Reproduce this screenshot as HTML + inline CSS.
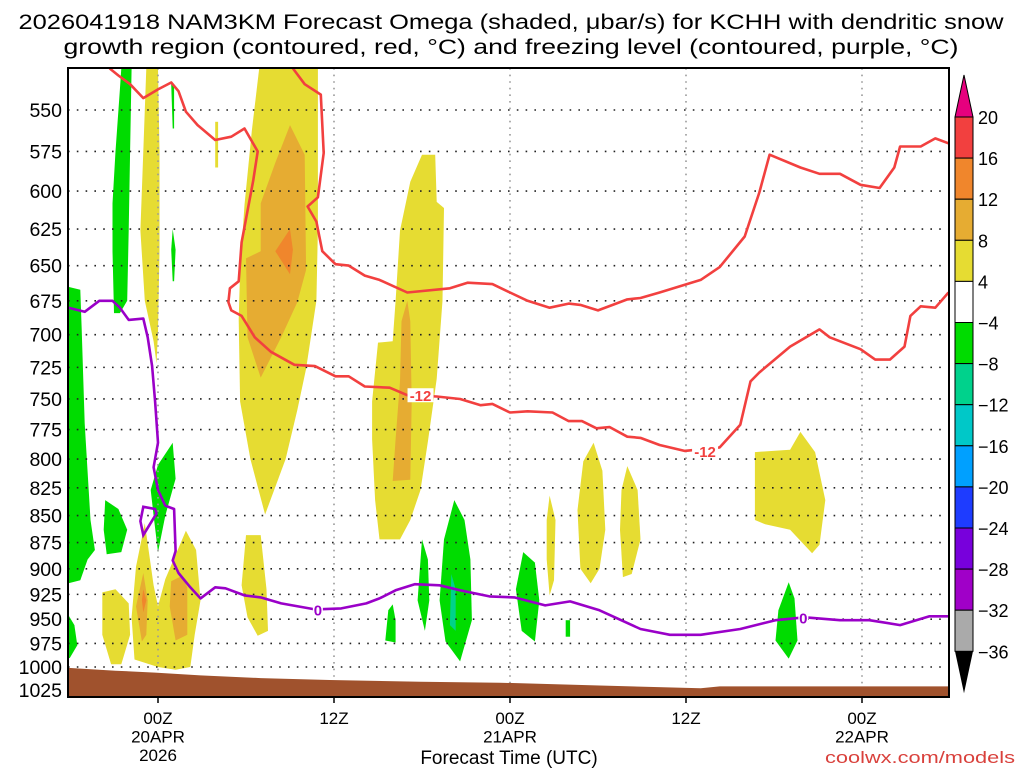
<!DOCTYPE html>
<html><head><meta charset="utf-8"><style>
html,body{margin:0;padding:0;background:#fff;}
svg{display:block;font-family:"Liberation Sans",sans-serif;}
</style></head><body>
<svg id="chart" width="1024" height="768" viewBox="0 0 1024 768" xmlns="http://www.w3.org/2000/svg">
<text x="511" y="29" font-size="21" text-anchor="middle" textLength="985" lengthAdjust="spacingAndGlyphs">2026041918 NAM3KM Forecast Omega (shaded, μbar/s) for KCHH with dendritic snow</text>
<text x="511" y="54" font-size="21" text-anchor="middle" textLength="895" lengthAdjust="spacingAndGlyphs">growth region (contoured, red, °C) and freezing level (contoured, purple, °C)</text>
<g id="plot"></g>
<g id="axes"></g>
<g id="cbar"></g>
<text x="509" y="764" font-size="19" text-anchor="middle">Forecast Time (UTC)</text>
<text x="1015" y="763" font-size="17" text-anchor="end" fill="#d9413c" textLength="190" lengthAdjust="spacingAndGlyphs">coolwx.com/models</text>
</svg>
<script>
// ---- data ----
const pressureTicks=[550,575,600,625,650,675,700,725,750,775,800,825,850,875,900,925,950,975,1000,1025];
const timeTickHours=[0,12,24,36,48];
const timeTickLabels=[["00Z","20APR","2026"],["12Z"],["00Z","21APR"],["12Z"],["00Z","22APR"]];
const colorbarLevels=[20,16,12,8,4,-4,-8,-12,-16,-20,-24,-28,-32,-36];
const colorbarColors=["#f2403f","#f0862c","#e6ac32","#e6dc32","#ffffff","#00dc00","#00d28c","#00c8c8","#00a0ff","#1e3cff","#7800dc","#a000c8","#aaaaaa"];
const terrain=[[-6.1,1001],[-2.9,1004],[-0.2,1006],[2.9,1009],[7,1012],[11.7,1014],[17.9,1016],[23.3,1017],[30.1,1020],[37,1023],[38.3,1021],[53.9,1021]];
const redLineA=[[-3.3,526],[-2.7,530],[-1.9,535],[-1,543],[0,538],[0.9,534],[1.4,539],[1.9,551],[2.7,559],[3.9,568],[5,566],[5.9,561],[6.8,575],[6.5,593],[5.7,634],[5.5,661],[4.9,666],[4.8,676],[5,682],[5.7,686],[6.6,702],[7.7,713],[9.3,723],[10.7,724],[12.1,732],[13,732],[14.1,740],[15.8,741],[17,747],[19,748],[20.6,750],[22,755],[22.8,754],[24,761],[25.2,760],[26.9,761],[28,768],[28.9,768],[29.9,774],[30.8,773],[32,781],[32.9,782],[34.2,788],[35.9,793],[38.3,790],[39.7,771],[40.4,736],[41,729],[43.1,709],[45.1,696],[45.8,702],[47.9,711],[48.9,719],[49.9,719],[50.9,709],[51.3,686],[52,679],[53,680],[53.9,669]];
const redLineB=[[9.2,526],[10,535],[11.1,541],[11.3,576],[10.9,604],[10.2,610],[10.8,620],[11.2,640],[12.1,649],[13,650],[14.1,657],[15.1,660],[17,669],[19.9,666],[21.1,662],[22.8,663],[24,669],[25.2,675],[26.7,680],[28,677],[28.8,678],[30,682],[31,678],[32,674],[32.9,673],[34.2,669],[37,660],[38.3,651],[40,630],[41,601],[41.7,577],[43.8,585],[45.1,589],[46.5,589],[47.9,596],[49.2,598],[50.2,585],[50.6,572],[52,572],[53,567],[53.9,570]];
const redLabels=[[17.9,747,"-12"],[37.3,793,"-12"]];
const freezingLine=[[-6.1,680],[-5,683],[-4,675],[-3.1,675],[-2.6,680],[-2,689],[-1,688],[-0.7,702],[-0.4,724],[-0.2,752],[0,786],[-0.3,807],[0,827],[0.5,841],[1.1,844],[1.2,883],[1,892],[1.4,904],[2.2,918],[2.9,929],[3.9,918],[4.6,919],[5.9,926],[7,928],[8.4,934],[10.7,940],[12.5,939],[14.2,934],[15.1,929],[16.2,921],[17.5,915],[19.2,916],[20.6,921],[22.6,927],[24.3,928],[26.4,936],[28.1,932],[30.1,941],[32.9,960],[34.9,966],[37,966],[39.7,960],[42.1,951],[44.1,948],[46.5,951],[48.5,951],[50.6,956],[52.6,947],[53.9,947]];
const freezingLoop=[[-1,842],[-0.2,844],[-0.1,848],[-1,868],[-1.2,855]];
const freezingLabels=[[10.9,940,"0"],[44,948,"0"]];
const omegaPos4=[
[[-0.8,526],[0,526],[0.1,575],[0.1,640],[0,698],[-0.1,722],[-0.3,705],[-0.9,675],[-1.2,626],[-1,575]],
[[3.9,557],[4.1,557],[4.1,585],[3.9,585]],
[[6.9,526],[10.9,526],[10.9,625],[10.8,675],[10.1,726],[9.5,759],[8.7,800],[7.3,849],[6.3,800],[5.6,752],[5.5,689],[5.6,653],[5.9,609],[6.4,562]],
[[18,577],[18.9,577],[19,607],[19.5,611],[19.4,675],[19,734],[18.4,785],[17.9,827],[17.2,854],[16.5,872],[15.1,872],[14.8,836],[14.6,783],[14.6,752],[15,706],[16,705],[16.2,675],[16.5,626],[17.2,594]],
[[26.7,832],[27.1,854],[27,911],[26.7,926],[26.5,891],[26.5,854]],
[[29.7,786],[30.3,810],[30.5,863],[30.1,900],[29.5,914],[28.8,900],[28.6,845],[29,802]],
[[32,806],[32.7,827],[32.9,872],[32.3,905],[31.7,908],[31.5,863],[31.6,827]],
[[43.8,777],[44.8,794],[45.5,836],[45.1,877],[44.6,885],[43.1,863],[41.4,858],[40.7,854],[40.7,794],[43.1,792]],
[[-3.8,923],[-2.9,920],[-2,934],[-1.9,966],[-2.5,997],[-3.2,997],[-3.8,966]],
[[-0.9,857],[-0.3,916],[0,937],[0.5,910],[1.9,864],[2.6,882],[2.9,931],[2.5,966],[2.2,1000],[1.2,1003],[0,1000],[-1.6,992],[-1.8,948],[-1.5,898]],
[[6,868],[7,868],[7.4,920],[7.5,962],[6.8,967],[6.1,948],[5.7,916]]
];
const omegaPos8=[
[[9,559],[10,577],[10.1,653],[9.5,676],[8.4,702],[7,733],[6.1,702],[6,645],[7,640],[7,608],[8,582]],
[[17,675],[17.2,690],[17.3,752],[17.2,818],[16,819],[16.2,783],[16.5,736],[16.6,690]],
[[-1,904],[-0.7,931],[-0.8,966],[-1.1,973],[-1.5,937]],
[[1.6,907],[2,918],[2,966],[1.2,972],[0.8,937],[0.9,912]]
];
const omegaPos12=[
[[9,625],[9.2,639],[9,656],[8,640]],
[[-1,920],[-0.8,931],[-1,943],[-1.1,931]]
];
const omegaNeg4=[
[[-6.1,665],[-5.3,667],[-5.2,696],[-5,770],[-4.6,854],[-4.3,882],[-4.8,891],[-5.3,911],[-6.1,914]],
[[-6.1,946],[-5.7,956],[-5.5,977],[-6,990],[-6.1,991]],
[[-2.5,526],[-1.8,526],[-1.9,575],[-2,626],[-2.1,675],[-2.6,684],[-3,684],[-3.1,640],[-3.1,608],[-2.9,575],[-2.6,538]],
[[0.9,535],[1.1,535],[1.1,561],[1,561]],
[[1,625],[1.2,639],[1.1,661],[1,661],[0.9,639]],
[[0,805],[1,786],[1.2,817],[0.5,850],[0,884],[-0.3,850],[-0.5,827]],
[[-3.6,836],[-2.7,844],[-2.1,863],[-2.5,884],[-3.5,886],[-3.7,863]],
[[20.2,836],[20.9,854],[21.3,891],[21.4,951],[20.6,994],[19.6,973],[19.2,931],[19.5,872]],
[[15.7,941],[16,935],[16.2,951],[16.2,974],[15.5,972]],
[[18,872],[18.4,891],[18.5,931],[18.2,962],[17.7,931]],
[[24.9,884],[25.7,894],[26,931],[25.7,973],[24.8,962],[24.4,920]],
[[27.8,951],[28.1,951],[28.1,968],[27.8,968]],
[[43,913],[43.4,929],[43.6,972],[43,991],[42.1,972],[42.3,941]]
];
const omegaNeg8=[
[[20,905],[20.3,920],[20.3,962],[19.9,956]]
];
// ---- scales ----
const X0=68,X1=949,Y0=68,Y1=697;
const xs=h=>158+h*(176/12);
const ys=p=>110+931.7*Math.log(p/550);
const NS="http://www.w3.org/2000/svg";
function mk(tag,attrs,parent){const e=document.createElementNS(NS,tag);for(const k in attrs)e.setAttribute(k,attrs[k]);parent.appendChild(e);return e;}
const plot=document.getElementById('plot'),axes=document.getElementById('axes'),cbar=document.getElementById('cbar');
const pts=a=>a.map(d=>xs(d[0]).toFixed(1)+','+ys(d[1]).toFixed(1)).join(' ');
const defs=mk('defs',{},plot);const cp=mk('clipPath',{id:'clip'},defs);mk('rect',{x:X0,y:Y0,width:X1-X0,height:Y1-Y0},cp);
const g=mk('g',{'clip-path':'url(#clip)'},plot);
function fillSet(arr,color,name){arr.forEach((a,i)=>{const e=mk('polygon',{points:pts(a),fill:color},g);

});}
fillSet(omegaPos4,'#e6dc32','omega-4-8-region');
fillSet(omegaPos8,'#e6ac32','omega-8-12-region');
fillSet(omegaPos12,'#f0862c','omega-12-16-region');
fillSet(omegaNeg4,'#00dc00','omega-neg4-neg8-region');
fillSet(omegaNeg8,'#00d28c','omega-neg8-neg12-region');
pressureTicks.forEach(p=>{const l=mk('line',{x1:X0,x2:X1,y1:ys(p),y2:ys(p),stroke:'#222','stroke-width':1.6,'stroke-dasharray':'1.6 7.2'},g);

});
timeTickHours.forEach(h=>{const l=mk('line',{x1:xs(h),x2:xs(h),y1:Y0,y2:Y1,stroke:'#999','stroke-width':1.6,'stroke-dasharray':'1.6 5'},g);

});
const tp=terrain.slice();tp.push([53.9,1100],[-6.1,1100]);
const ter=mk('polygon',{points:pts(tp),fill:'#a0522d'},g);


function line(a,color,name){const e=mk('polyline',{points:pts(a),fill:'none',stroke:color,'stroke-width':2.6,'stroke-linejoin':'round'},g);

}
line(redLineA,'#f2403f','dendritic-contour-lower');
line(redLineB,'#f2403f','dendritic-contour-upper');
line(freezingLine,'#9a00c8','freezing-level-line');
const lp=mk('polygon',{points:pts(freezingLoop),fill:'none',stroke:'#9a00c8','stroke-width':2.6},g);


function labels(arr,color,name,w){arr.forEach((d,i)=>{const x=xs(d[0]),y=ys(d[1]);
mk('rect',{x:x-w/2,y:y-7,width:w,height:14,fill:'#fff'},g);
const t=mk('text',{x:x,y:y+6,'font-size':15,'font-weight':'bold','text-anchor':'middle',fill:color},g);t.textContent=d[2];

});}
labels(redLabels,'#f2403f','dendritic-contour-label',26);
labels(freezingLabels,'#9a00c8','freezing-level-label',10);
mk('rect',{x:X0,y:Y0,width:X1-X0,height:Y1-Y0,fill:'none',stroke:'#000','stroke-width':2},axes);
pressureTicks.forEach(p=>{const t=mk('text',{x:62,y:ys(p)+7,'font-size':19.5,'text-anchor':'end'},axes);t.textContent=p;

});
timeTickHours.forEach((h,i)=>{mk('line',{x1:xs(h),x2:xs(h),y1:Y1,y2:Y1+6,stroke:'#000','stroke-width':1.5},axes);
timeTickLabels[i].forEach((s,j)=>{const t=mk('text',{x:xs(h),y:724+j*18.5,'font-size':17,'text-anchor':'middle'},axes);t.textContent=s;

});});
const cbX=955,cbW=18,cbTop=117,step=41.1;
const tri=mk('polygon',{points:`${cbX},${cbTop} ${cbX+cbW},${cbTop} ${cbX+cbW/2},${cbTop-42}`,fill:'#e6007e',stroke:'#000','stroke-width':1},cbar);


colorbarColors.forEach((c,i)=>{const r=mk('rect',{x:cbX,y:cbTop+i*step,width:cbW,height:step,fill:c,stroke:'#000','stroke-width':1},cbar);

});
const bot=cbTop+colorbarColors.length*step;
const tri2=mk('polygon',{points:`${cbX},${bot} ${cbX+cbW},${bot} ${cbX+cbW/2},${bot+42}`,fill:'#000'},cbar);


colorbarLevels.forEach((v,i)=>{const t=mk('text',{x:978,y:cbTop+i*step+7,'font-size':18},cbar);t.textContent=v<0?'\u2212'+(-v):v;

});
</script>
</body></html>
